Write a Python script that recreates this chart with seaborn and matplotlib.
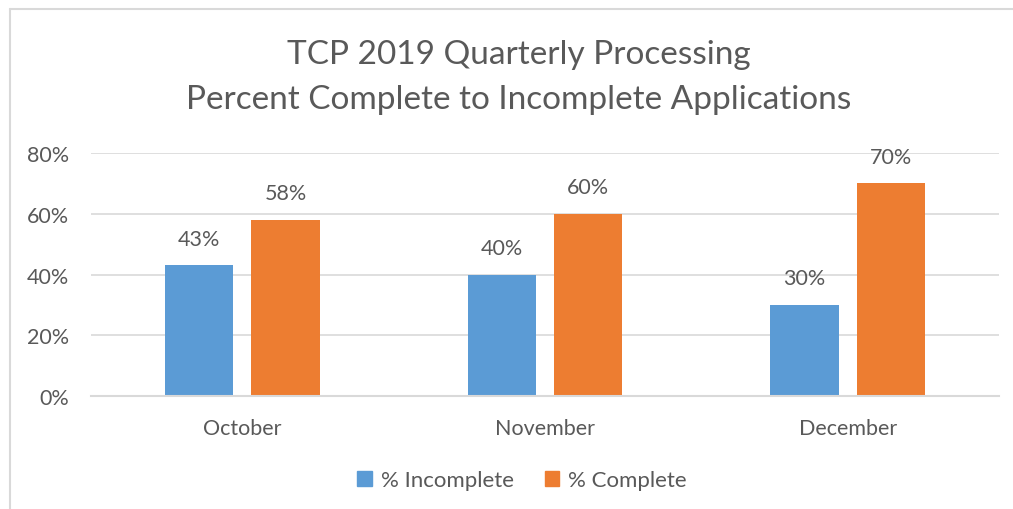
import pandas as pd
import matplotlib.pyplot as plt
import seaborn as sn
from matplotlib.lines import Line2D

# dados do grafico
months = ['October', 'November', 'December']
pct_incomplete = [43, 40, 30]
pct_complete = [58, 60, 70]
series_names = ['% Incomplete', '% Complete']
y_ticks = [0, 20, 40, 60, 80]

df = pd.DataFrame({
    'Month': months * 2,
    'Series': [series_names[0]] * 3 + [series_names[1]] * 3,
    'Value': pct_incomplete + pct_complete,
})

sn.set_style('white')
plt.rcParams['font.family'] = ['Lato', 'DejaVu Sans']
txt = '#595959'
grid_c = '#D9D9D9'

fig = plt.figure(figsize=(10.13, 5.10), dpi=100)
ax = fig.add_axes([91 / 1013, 1 - 397 / 510, (999 - 91) / 1013, (397 - 154) / 510])

sn.barplot(data=df, x='Month', y='Value', hue='Series', order=months, hue_order=series_names,
           palette=['#5B9BD5', '#ED7D31'], width=0.57, gap=0.21, saturation=1, ax=ax, legend=False,
           linewidth=0)

ax.set_ylim(0, 80)
ax.set_xlim(-0.5, 2.5)
ax.set_yticks(y_ticks)
ax.set_yticklabels([f'{t}%' for t in y_ticks])
ax.yaxis.grid(True, color=grid_c, linewidth=1.2)
ax.set_axisbelow(True)
for s in ['top', 'right', 'left']:
    ax.spines[s].set_visible(False)
ax.spines['bottom'].set_color(grid_c)
ax.spines['bottom'].set_linewidth(1.5)
ax.tick_params(axis='y', length=0, pad=16, labelsize=15.5, labelcolor=txt)
ax.tick_params(axis='x', length=0, pad=16, labelsize=15.5, labelcolor=txt)
ax.set_xlabel('')
ax.set_ylabel('')

for cont in ax.containers:
    ax.bar_label(cont, labels=[f'{v:.0f}%' for v in cont.datavalues], padding=12, fontsize=15.5, color=txt)

# titulo
fig.text(519 / 1013, 1 - 55 / 510, 'TCP 2019 Quarterly Processing', ha='center', va='center', fontsize=24, color=txt)
fig.text(519 / 1013, 1 - 100 / 510, 'Percent Complete to Incomplete Applications', ha='center', va='center', fontsize=24, color=txt)

# legenda
handles = [plt.Rectangle((0, 0), 1, 1, color=c) for c in ['#5B9BD5', '#ED7D31']]
leg = fig.legend(handles, series_names, loc='center', bbox_to_anchor=(522 / 1013, 1 - 481 / 510), ncol=2,
                 frameon=False, fontsize=16, handlelength=0.65, handleheight=0.65, handletextpad=0.4,
                 columnspacing=1.4)
for t in leg.get_texts():
    t.set_color(txt)

# borda do grafico
fig.add_artist(Line2D([10 / 1013, 10 / 1013], [0, 1 - 10 / 510], color=grid_c, linewidth=1.5))
fig.add_artist(Line2D([10 / 1013, 1], [1 - 10 / 510, 1 - 10 / 510], color=grid_c, linewidth=1.5))

plt.savefig('out.png', dpi=100)
plt.close()
